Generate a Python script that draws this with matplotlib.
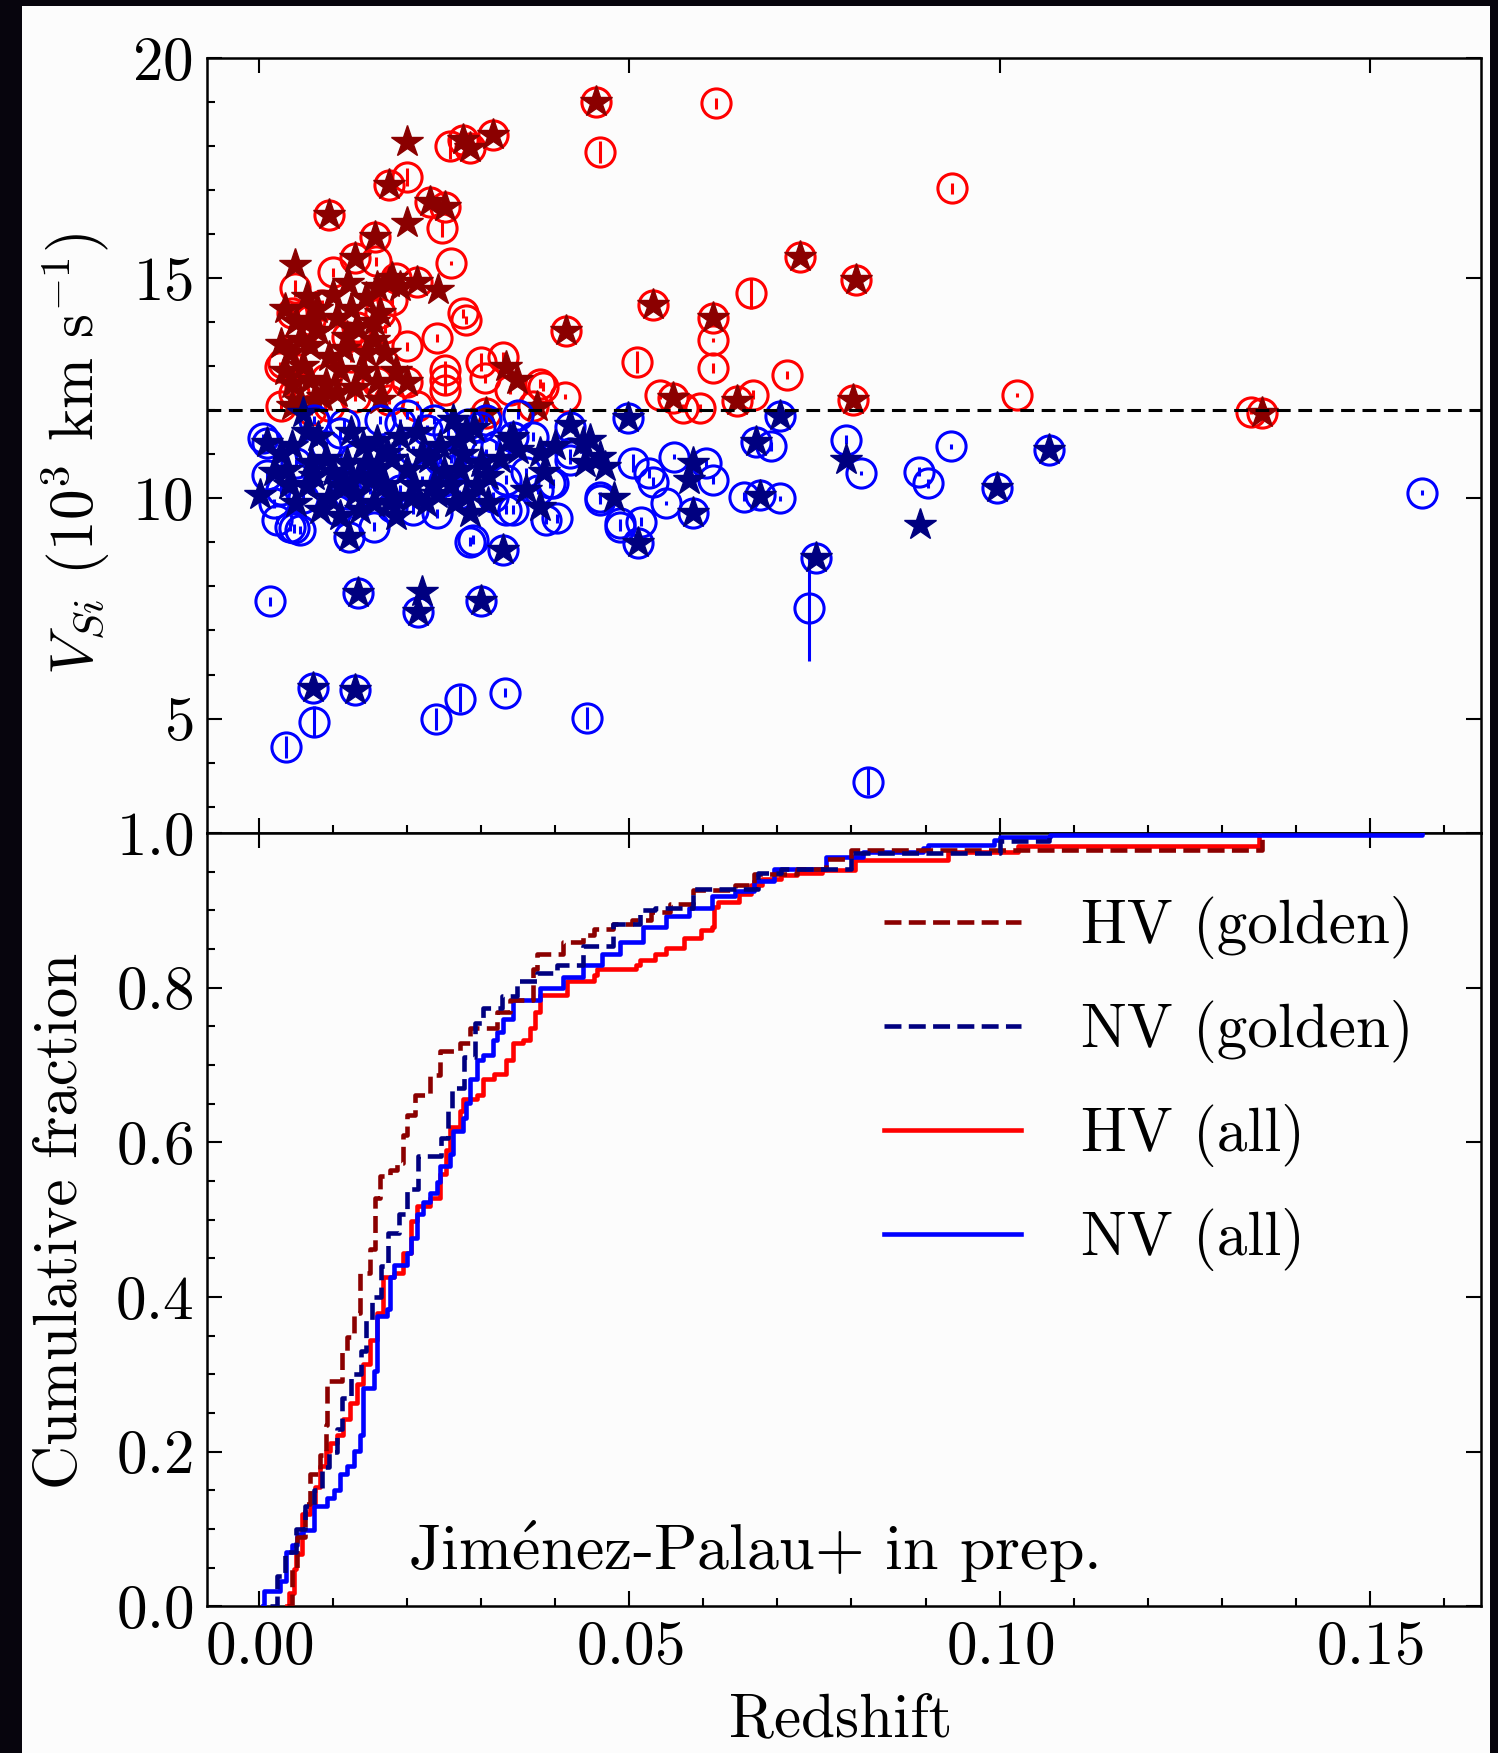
import matplotlib
matplotlib.use("Agg")
import matplotlib.pyplot as plt
from matplotlib.patches import Rectangle
from matplotlib.ticker import MultipleLocator

plt.rcParams["font.family"] = ["cmr10", "DejaVu Serif"]
plt.rcParams["mathtext.fontset"] = "cm"
plt.rcParams["axes.formatter.use_mathtext"] = True
plt.rcParams["axes.unicode_minus"] = False

# ---- top panel: Si II velocity vs redshift ----
hv_all_z = [0.0455, 0.0460, 0.0617, 0.0936, 0.0258, 0.0276, 0.0285, 0.0316, 0.0094, 0.0176,
            0.0200, 0.0231, 0.0251, 0.0247, 0.0260, 0.0157, 0.0130, 0.0100, 0.0049, 0.0158,
            0.0213, 0.0276, 0.0280, 0.0170, 0.0200, 0.0240, 0.0033, 0.0047, 0.0159, 0.0200,
            0.0130, 0.0251, 0.0251, 0.0251, 0.0300, 0.0330, 0.0305, 0.0339, 0.0379, 0.0384,
            0.0413, 0.0415, 0.0510, 0.0532, 0.0541, 0.0572, 0.0595, 0.0613, 0.0613, 0.0613,
            0.0665, 0.0713, 0.0646, 0.0667, 0.0730, 0.0806, 0.0802, 0.1024, 0.1340, 0.1354,
            0.0029, 0.0070, 0.0056, 0.0069, 0.0119, 0.0132, 0.0164, 0.0176, 0.0095, 0.0213,
            0.0307, 0.0370, 0.0559, 0.0030, 0.0055, 0.0090, 0.0125, 0.0180, 0.0185, 0.0085,
            0.0045]
hv_all_v = [19.00, 17.87, 18.97, 17.04, 18.00, 18.14, 17.95, 18.25, 16.44, 17.12,
            17.30, 16.74, 16.62, 16.13, 15.34, 15.94, 15.45, 15.13, 14.77, 15.38,
            14.92, 14.20, 14.05, 13.86, 13.45, 13.64, 13.07, 12.39, 12.65, 12.65,
            12.31, 12.92, 12.69, 12.46, 13.10, 13.22, 12.73, 12.46, 12.60, 12.54,
            12.31, 13.79, 13.10, 14.39, 12.35, 12.05, 12.05, 14.09, 13.60, 12.96,
            14.66, 12.80, 12.20, 12.35, 15.49, 14.96, 12.24, 12.35, 11.97, 11.93,
            12.99, 12.00, 13.60, 14.05, 13.67, 13.90, 14.21, 12.24, 12.10, 12.10,
            11.93, 12.10, 12.27, 12.10, 12.50, 12.70, 13.20, 14.50, 15.00, 14.40,
            14.20]
hv_all_err = [0.10, 0.25, 0.12, 0.12, 0.30, 0.10, 0.10, 0.10, 0.10, 0.10,
              0.20, 0.10, 0.10, 0.20, 0.05, 0.10, 0.10, 0.10, 0.20, 0.10,
              0.10, 0.10, 0.10, 0.10, 0.10, 0.10, 0.10, 0.10, 0.10, 0.10,
              0.10, 0.20, 0.20, 0.10, 0.20, 0.10, 0.10, 0.10, 0.10, 0.10,
              0.05, 0.10, 0.25, 0.10, 0.10, 0.10, 0.10, 0.10, 0.05, 0.12,
              0.35, 0.10, 0.10, 0.10, 0.10, 0.10, 0.10, 0.05, 0.05, 0.05,
              0.10, 0.10, 0.10, 0.10, 0.10, 0.10, 0.10, 0.10, 0.10, 0.10,
              0.10, 0.10, 0.10, 0.10, 0.10, 0.10, 0.10, 0.10, 0.10, 0.10,
              0.10]

hv_gold_z = [0.0455, 0.0200, 0.0276, 0.0285, 0.0316, 0.0094, 0.0176, 0.0231, 0.0251, 0.0200,
             0.0049, 0.0157, 0.0130, 0.0100, 0.0065, 0.0213, 0.0242, 0.0190, 0.0159, 0.0164,
             0.0132, 0.0119, 0.0069, 0.0056, 0.0069, 0.0042, 0.0110, 0.0069, 0.0159, 0.0200,
             0.0334, 0.0348, 0.0375, 0.0307, 0.0415, 0.0532, 0.0559, 0.0613, 0.0646, 0.0730,
             0.0806, 0.0802, 0.1354, 0.0164, 0.0045, 0.0085, 0.0095, 0.0125, 0.0145, 0.0175,
             0.0035, 0.0055, 0.0105, 0.0145, 0.0155, 0.0078, 0.0030, 0.0050, 0.0060, 0.0080,
             0.0090, 0.0115, 0.0120, 0.0130, 0.0140, 0.0155, 0.0170, 0.0180, 0.0185, 0.0035,
             0.0045, 0.0075, 0.0105]
hv_gold_v = [19.00, 18.10, 18.14, 17.95, 18.25, 16.44, 17.12, 16.74, 16.62, 16.25,
             15.30, 15.94, 15.45, 14.62, 14.58, 14.92, 14.73, 14.81, 14.81, 14.21,
             13.90, 13.67, 14.05, 13.60, 13.45, 13.30, 12.92, 12.69, 12.65, 12.65,
             12.99, 12.69, 12.08, 11.93, 13.79, 14.39, 12.27, 14.09, 12.20, 15.49,
             14.96, 12.24, 11.93, 12.24, 12.60, 12.30, 13.20, 14.30, 14.55, 14.90,
             12.90, 12.20, 12.40, 13.30, 14.00, 14.30, 13.50, 14.00, 13.00, 13.80,
             12.60, 13.40, 14.90, 12.50, 12.90, 13.60, 13.30, 15.00, 12.90, 14.30,
             12.10, 12.20, 14.10]

nv_all_z = [0.0015, 0.0134, 0.0215, 0.0300, 0.0073, 0.0130, 0.0074, 0.0037, 0.0239, 0.0271,
            0.0332, 0.0443, 0.0822, 0.0743, 0.0752, 0.0997, 0.1067, 0.1570, 0.0793, 0.0813,
            0.0891, 0.0903, 0.0934, 0.0703, 0.0671, 0.0691, 0.0655, 0.0676, 0.0703, 0.0498,
            0.0420, 0.0420, 0.0397, 0.0402, 0.0505, 0.0527, 0.0532, 0.0561, 0.0604, 0.0613,
            0.0586, 0.0550, 0.0460, 0.0487, 0.0516, 0.0512, 0.0121, 0.0329, 0.0285, 0.0047,
            0.0024, 0.0155, 0.0011, 0.0011, 0.0006, 0.0020, 0.0042, 0.0056, 0.0069, 0.0074,
            0.0110, 0.0105, 0.0164, 0.0190, 0.0208, 0.0208, 0.0227, 0.0236, 0.0244, 0.0240,
            0.0289, 0.0298, 0.0307, 0.0316, 0.0334, 0.0334, 0.0307, 0.0343, 0.0420, 0.0377,
            0.0393, 0.0343, 0.0388, 0.0460, 0.0487, 0.0050, 0.0080, 0.0090, 0.0130, 0.0150,
            0.0170, 0.0190, 0.0220, 0.0260, 0.0270, 0.0290, 0.0320, 0.0360, 0.0370, 0.0030,
            0.0060, 0.0120, 0.0180, 0.0250, 0.0115, 0.0200, 0.0255, 0.0283, 0.0350]
nv_all_v = [7.66, 7.85, 7.43, 7.66, 5.69, 5.65, 4.93, 4.35, 4.99, 5.44,
            5.59, 5.01, 3.57, 7.51, 8.64, 10.23, 11.10, 10.13, 11.33, 10.57,
            10.61, 10.34, 11.18, 11.86, 11.27, 11.18, 10.04, 10.08, 10.00, 11.82,
            11.63, 11.03, 10.34, 9.55, 10.80, 10.57, 10.38, 10.95, 10.80, 10.42,
            9.66, 9.89, 9.97, 9.36, 9.47, 8.98, 9.13, 8.82, 9.02, 9.32,
            9.51, 9.36, 10.53, 11.25, 11.37, 9.89, 9.36, 9.28, 11.03, 11.78,
            11.48, 9.74, 11.78, 11.71, 11.10, 9.74, 11.56, 11.78, 10.87, 9.66,
            9.06, 11.63, 11.03, 10.04, 10.42, 9.74, 11.78, 11.40, 10.87, 10.19,
            10.34, 9.74, 9.51, 10.04, 9.44, 10.80, 10.40, 11.20, 10.90, 10.20,
            10.60, 10.20, 10.40, 10.90, 10.10, 10.60, 11.20, 10.60, 11.40, 10.20,
            10.00, 10.10, 9.80, 10.40, 11.70, 11.90, 11.50, 11.70, 11.90]
nv_all_err = [0.10, 0.10, 0.10, 0.10, 0.10, 0.10, 0.35, 0.25, 0.25, 0.30,
              0.10, 0.25, 0.30, 1.20, 0.10, 0.10, 0.10, 0.05, 0.10, 0.05,
              0.10, 0.10, 0.05, 0.10, 0.10, 0.10, 0.10, 0.10, 0.05, 0.10,
              0.10, 0.10, 0.10, 0.10, 0.20, 0.10, 0.10, 0.05, 0.10, 0.10,
              0.10, 0.05, 0.10, 0.10, 0.10, 0.10, 0.10, 0.10, 0.10, 0.10,
              0.10, 0.10, 0.10, 0.10, 0.10, 0.10, 0.10, 0.10, 0.10, 0.10,
              0.10, 0.10, 0.10, 0.10, 0.10, 0.10, 0.10, 0.10, 0.10, 0.10,
              0.10, 0.10, 0.10, 0.10, 0.10, 0.10, 0.10, 0.10, 0.10, 0.10,
              0.10, 0.10, 0.10, 0.10, 0.10, 0.10, 0.10, 0.10, 0.10, 0.10,
              0.10, 0.10, 0.10, 0.10, 0.10, 0.10, 0.10, 0.10, 0.10, 0.10,
              0.10, 0.10, 0.10, 0.10, 0.10, 0.10, 0.10, 0.10, 0.10]

nv_gold_z = [0.0060, 0.0002, 0.0011, 0.0121, 0.0329, 0.0134, 0.0220, 0.0215, 0.0300, 0.0073,
             0.0130, 0.0752, 0.0892, 0.0793, 0.0997, 0.1067, 0.0703, 0.0671, 0.0676, 0.0498,
             0.0586, 0.0581, 0.0586, 0.0512, 0.0480, 0.0467, 0.0420, 0.0438, 0.0447, 0.0460,
             0.0379, 0.0343, 0.0379, 0.0262, 0.0271, 0.0280, 0.0285, 0.0339, 0.0236, 0.0200,
             0.0182, 0.0173, 0.0141, 0.0150, 0.0137, 0.0119, 0.0110, 0.0083, 0.0065, 0.0045,
             0.0038, 0.0090, 0.0160, 0.0220, 0.0250, 0.0310, 0.0360, 0.0190, 0.0075, 0.0135,
             0.0205, 0.0270, 0.0295, 0.0030, 0.0040, 0.0050, 0.0070, 0.0080, 0.0095, 0.0100,
             0.0110, 0.0125, 0.0130, 0.0145, 0.0155, 0.0160, 0.0170, 0.0180, 0.0185, 0.0210,
             0.0215, 0.0230, 0.0240, 0.0245, 0.0260, 0.0265, 0.0275, 0.0290, 0.0300, 0.0310,
             0.0325, 0.0350, 0.0385, 0.0400, 0.0440, 0.0020, 0.0065, 0.0115, 0.0175, 0.0225,
             0.0280]
nv_gold_v = [11.93, 10.08, 11.25, 9.13, 8.82, 7.85, 7.88, 7.43, 7.66, 5.69,
             5.65, 8.64, 9.40, 10.87, 10.23, 11.10, 11.86, 11.27, 10.06, 11.82,
             10.80, 10.42, 9.66, 8.98, 10.00, 10.72, 11.67, 11.25, 11.33, 10.95,
             11.03, 11.40, 9.81, 11.78, 10.65, 10.04, 9.66, 11.33, 10.27, 10.65,
             10.04, 11.03, 11.18, 10.42, 9.74, 10.80, 10.27, 9.74, 10.27, 11.18,
             10.65, 10.90, 10.70, 11.00, 10.60, 10.50, 10.20, 11.40, 10.50, 10.50,
             10.00, 11.30, 10.30, 11.00, 10.30, 9.90, 10.80, 11.40, 10.00, 10.60,
             9.60, 11.50, 10.10, 10.80, 9.90, 11.30, 10.30, 10.90, 9.60, 10.30,
             11.50, 10.90, 10.10, 11.20, 10.30, 9.90, 11.00, 11.60, 10.80, 9.90,
             10.90, 11.10, 10.60, 11.20, 10.80, 10.60, 11.50, 10.40, 9.90, 9.90,
             11.50]

v_split = 12.0

# ---- bottom panel: cumulative redshift distributions (step breakpoints) ----
cdf_hv_gold_z = [0.0038, 0.0045, 0.0051, 0.0062, 0.0069, 0.0083, 0.0090, 0.0092, 0.0112, 0.0119,
                 0.0128, 0.0137, 0.0150, 0.0157, 0.0164, 0.0177, 0.0186, 0.0195, 0.0200, 0.0211,
                 0.0231, 0.0245, 0.0271, 0.0285, 0.0321, 0.0339, 0.0370, 0.0375, 0.0411, 0.0437,
                 0.0452, 0.0478, 0.0504, 0.0530, 0.0555, 0.0586, 0.0643, 0.0669, 0.0726, 0.0766,
                 0.0800, 0.1354]
cdf_hv_gold_f = [0.000, 0.048, 0.090, 0.132, 0.171, 0.196, 0.234, 0.291, 0.329, 0.349,
                 0.380, 0.431, 0.462, 0.528, 0.557, 0.564, 0.574, 0.610, 0.636, 0.661,
                 0.687, 0.718, 0.728, 0.748, 0.769, 0.784, 0.824, 0.844, 0.859, 0.868,
                 0.876, 0.883, 0.888, 0.898, 0.908, 0.926, 0.933, 0.947, 0.953, 0.967,
                 0.978, 1.000]

cdf_nv_gold_z = [0.0015, 0.0025, 0.0035, 0.0050, 0.0062, 0.0075, 0.0085, 0.0095, 0.0105, 0.0112,
                 0.0125, 0.0138, 0.0145, 0.0153, 0.0165, 0.0174, 0.0189, 0.0200, 0.0215, 0.0246,
                 0.0255, 0.0261, 0.0277, 0.0292, 0.0303, 0.0328, 0.0349, 0.0375, 0.0403, 0.0437,
                 0.0478, 0.0514, 0.0535, 0.0586, 0.0674, 0.0705, 0.0800, 0.1000, 0.1067]
cdf_nv_gold_f = [0.000, 0.040, 0.070, 0.100, 0.130, 0.150, 0.180, 0.200, 0.230, 0.270,
                 0.300, 0.330, 0.370, 0.400, 0.440, 0.483, 0.507, 0.540, 0.582, 0.606,
                 0.640, 0.670, 0.710, 0.754, 0.774, 0.789, 0.809, 0.819, 0.829, 0.854,
                 0.883, 0.900, 0.903, 0.928, 0.948, 0.953, 0.974, 0.990, 1.000]

cdf_hv_all_z = [0.0038, 0.0040, 0.0047, 0.0050, 0.0058, 0.0069, 0.0076, 0.0083, 0.0090, 0.0096,
                0.0105, 0.0114, 0.0123, 0.0132, 0.0141, 0.0150, 0.0159, 0.0168, 0.0182, 0.0195,
                0.0206, 0.0213, 0.0231, 0.0244, 0.0253, 0.0258, 0.0271, 0.0276, 0.0294, 0.0303,
                0.0318, 0.0334, 0.0343, 0.0357, 0.0366, 0.0373, 0.0380, 0.0416, 0.0452, 0.0457,
                0.0509, 0.0514, 0.0535, 0.0550, 0.0574, 0.0597, 0.0612, 0.0615, 0.0620, 0.0648,
                0.0664, 0.0679, 0.0705, 0.0726, 0.0760, 0.0805, 0.0930, 0.1025, 0.1350]
cdf_hv_all_f = [0.000, 0.017, 0.048, 0.068, 0.120, 0.130, 0.155, 0.181, 0.201, 0.211,
                0.222, 0.242, 0.263, 0.288, 0.314, 0.344, 0.380, 0.426, 0.431, 0.457,
                0.498, 0.518, 0.528, 0.559, 0.590, 0.620, 0.641, 0.656, 0.661, 0.682,
                0.689, 0.707, 0.728, 0.733, 0.748, 0.769, 0.791, 0.809, 0.816, 0.824,
                0.829, 0.836, 0.844, 0.851, 0.864, 0.874, 0.879, 0.904, 0.911, 0.921,
                0.933, 0.941, 0.946, 0.948, 0.952, 0.965, 0.976, 0.983, 1.000]

cdf_nv_all_z = [0.0006, 0.0007, 0.0029, 0.0036, 0.0045, 0.0051, 0.0060, 0.0074, 0.0092, 0.0101,
                0.0110, 0.0119, 0.0128, 0.0137, 0.0141, 0.0155, 0.0159, 0.0173, 0.0177, 0.0182,
                0.0200, 0.0206, 0.0213, 0.0222, 0.0231, 0.0240, 0.0244, 0.0258, 0.0262, 0.0276,
                0.0280, 0.0285, 0.0294, 0.0303, 0.0316, 0.0321, 0.0330, 0.0343, 0.0380, 0.0411,
                0.0437, 0.0463, 0.0488, 0.0519, 0.0550, 0.0581, 0.0612, 0.0643, 0.0669, 0.0695,
                0.0766, 0.0815, 0.0897, 0.0903, 0.0993, 0.1000, 0.1068, 0.1570]
cdf_nv_all_f = [0.000, 0.020, 0.033, 0.071, 0.079, 0.094, 0.099, 0.130, 0.140, 0.150,
                0.171, 0.181, 0.201, 0.222, 0.283, 0.304, 0.375, 0.385, 0.426, 0.442,
                0.457, 0.477, 0.508, 0.523, 0.534, 0.549, 0.569, 0.585, 0.615, 0.631,
                0.651, 0.682, 0.707, 0.713, 0.733, 0.743, 0.759, 0.784, 0.799, 0.814,
                0.829, 0.844, 0.859, 0.878, 0.893, 0.903, 0.918, 0.925, 0.938, 0.953,
                0.969, 0.976, 0.980, 0.985, 0.991, 0.995, 0.997, 1.000]

FS = 44

fig = plt.figure(figsize=(14.98, 17.53), dpi=100)
fig.patch.set_facecolor("#07050d")
fig.add_artist(Rectangle((22 / 1498, 0), (1490 - 22) / 1498, 1 - 6 / 1753,
                         transform=fig.transFigure, facecolor="#fcfcfc",
                         edgecolor="none", zorder=-5))

ax1 = fig.add_axes([0.1382, 0.5248, 0.8505, 0.4421])
ax2 = fig.add_axes([0.1382, 0.0836, 0.8505, 0.4412])

for ax in (ax1, ax2):
    ax.set_facecolor("#fcfcfc")
    for sp in ax.spines.values():
        sp.set_linewidth(1.8)
    ax.tick_params(which="both", direction="in", labelsize=FS, width=1.5)
    ax.tick_params(which="major", length=11, top=True, right=True, pad=10)
    ax.tick_params(which="minor", length=6, top=False, right=False)
    ax.xaxis.set_major_locator(MultipleLocator(0.05))
    ax.xaxis.set_minor_locator(MultipleLocator(0.01))
    ax.set_xlim(-0.007, 0.165)

# top panel
ax1.errorbar(hv_all_z, hv_all_v, yerr=hv_all_err, fmt="o", mfc="none", mec="red",
             ecolor="red", ms=21, mew=2.2, elinewidth=2.2, capsize=0, zorder=3)
ax1.plot(hv_gold_z, hv_gold_v, "*", color="darkred", ms=24, ls="none", zorder=4)
ax1.errorbar(nv_all_z, nv_all_v, yerr=nv_all_err, fmt="o", mfc="none", mec="blue",
             ecolor="blue", ms=21, mew=2.2, elinewidth=2.2, capsize=0, zorder=5)
ax1.plot(nv_gold_z, nv_gold_v, "*", color="navy", ms=24, ls="none", zorder=6)
ax1.axhline(v_split, color="black", lw=2.2, dashes=(4.5, 2.5), zorder=7)

ax1.set_ylim(2.4, 20)
ax1.yaxis.set_major_locator(MultipleLocator(5))
ax1.yaxis.set_minor_locator(MultipleLocator(1))
ax1.tick_params(labelbottom=False)
ax1.set_ylabel(r"$V_{Si}$ ($10^3$ km s$^{-1}$)", fontsize=FS)
ax1.yaxis.set_label_coords(-0.0746, 0.49)

# bottom panel
ax2.step(cdf_hv_gold_z, cdf_hv_gold_f, where="post", color="darkred", lw=3.3,
         ls="--", label="HV (golden)", zorder=4)
ax2.step(cdf_nv_gold_z, cdf_nv_gold_f, where="post", color="navy", lw=3.3,
         ls="--", label="NV (golden)", zorder=5)
ax2.step(cdf_hv_all_z, cdf_hv_all_f, where="post", color="red", lw=3.3,
         label="HV (all)", zorder=3)
ax2.step(cdf_nv_all_z, cdf_nv_all_f, where="post", color="blue", lw=3.3,
         label="NV (all)", zorder=3)

ax2.set_ylim(0, 1.0)
ax2.yaxis.set_major_locator(MultipleLocator(0.2))
ax2.yaxis.set_minor_locator(MultipleLocator(0.05))
ax2.set_xlabel("Redshift", fontsize=FS)
ax2.xaxis.set_label_coords(0.4976, -0.112)
ax2.set_ylabel("Cumulative fraction", fontsize=FS)
ax2.yaxis.set_label_coords(-0.0923, 0.498)

ax2.legend(loc="upper left", bbox_to_anchor=(0.531, 0.918), frameon=False,
           fontsize=FS, handlelength=2.25, handletextpad=0.98, labelspacing=0.67,
           borderpad=0, borderaxespad=0)

ax2.text(0.0201, 0.07, r"Jim$\acute{\mathrm{e}}$nez-Palau+ in prep.", fontsize=46,
         va="center", ha="left")

fig.savefig("out.png", dpi=100, facecolor=fig.get_facecolor())
